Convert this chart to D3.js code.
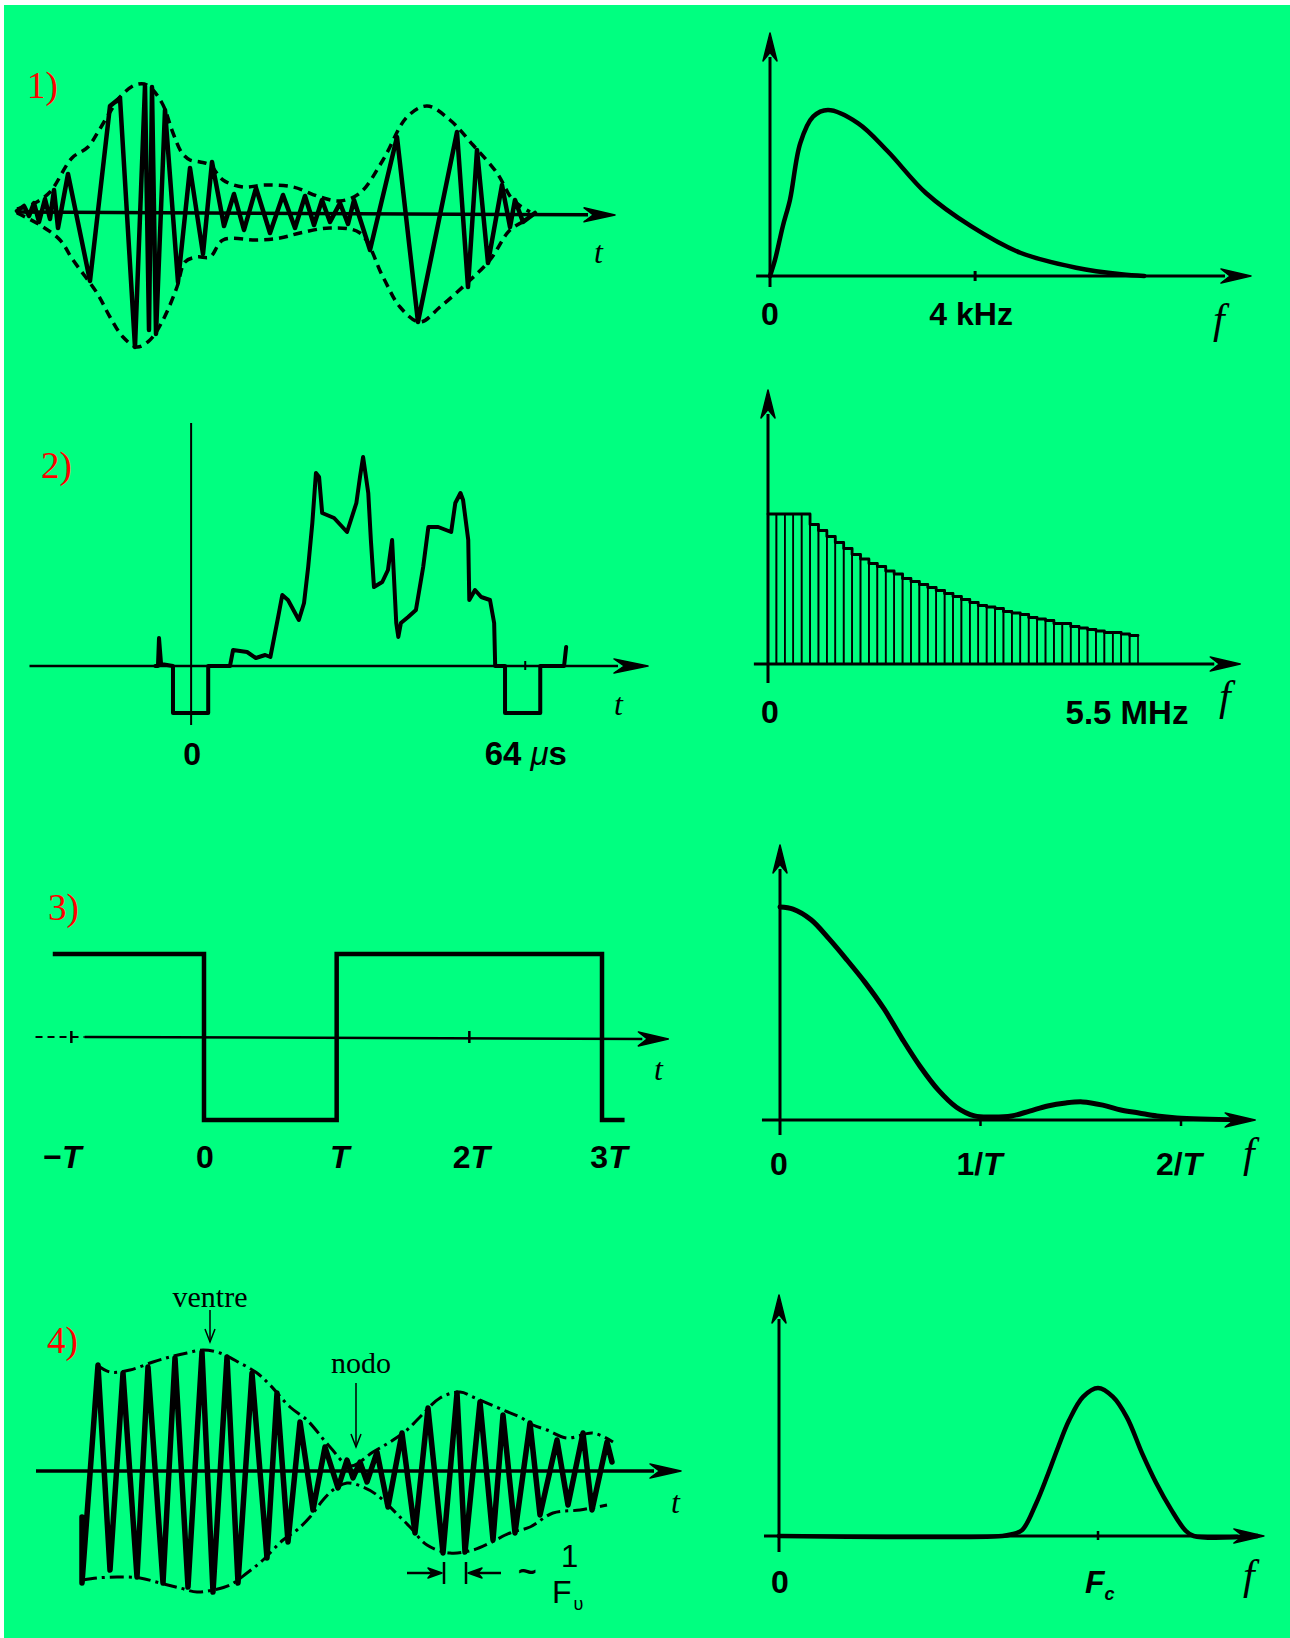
<!DOCTYPE html>
<html>
<head>
<meta charset="utf-8">
<script src="https://cdn.jsdelivr.net/npm/d3@7"></script>
<style>
	html, body { margin: 0; padding: 0; background: #ffffff; }
	svg { display: block; }
</style>
</head>
<body>
<script>

/****************************************
 *
 * Data
 *
 ****************************************/

// 1) speech burst : time (ms), amplitude
var burstWave = [
	[0, 0.01], [0.7, 0.06], [1.2, -0.04], [1.7, 0.09], [2.2, -0.10], [2.8, 0.13], [3.3, -0.07],
	[3.7, 0.22], [4.1, -0.16], [5.1, 0.38], [7.3, -0.69], [9.3, 1.06], [10.3, 1.14], [11.8, -1.35],
	[12.8, 1.26], [13.2, -1.18], [13.5, 1.25], [13.9, -1.22], [14.8, 1.02], [16.1, -0.70], [17.3, 0.44],
	[18.6, -0.42], [19.5, 0.50], [20.7, -0.14], [21.7, 0.18], [22.7, -0.18], [23.9, 0.24], [25.3, -0.21],
	[26.6, 0.17], [27.8, -0.16], [28.8, 0.16], [29.7, -0.13], [30.5, 0.12], [31.3, -0.10], [32.3, 0.09],
	[33.1, -0.12], [33.7, 0.12], [35.3, -0.38], [38.0, 0.75], [40.1, -1.10], [44.0, 0.80], [45.1, -0.75],
	[46.0, 0.62], [47.1, -0.51], [48.5, 0.27], [49.3, -0.15], [49.8, 0.12], [50.6, -0.10], [51.8, -0.01]
]
var burstUpper = [
	[0, 0.03], [1.8, 0.09], [3.3, 0.20], [5.5, 0.54], [7.1, 0.65], [8.1, 0.80], [9.3, 1.0], [10.3, 1.15],
	[11.8, 1.27], [13.0, 1.27], [14.5, 1.09], [15.6, 0.79], [16.5, 0.59], [17.3, 0.52], [18.3, 0.50],
	[19.3, 0.47], [20.6, 0.32], [22.6, 0.25], [24.8, 0.27], [27.6, 0.25], [30.3, 0.15], [32.3, 0.11],
	[34.3, 0.19], [36.6, 0.52], [39.0, 0.95], [41.0, 1.06], [43.3, 0.92], [45.6, 0.67], [48.0, 0.39],
	[49.6, 0.12], [51.3, 0.0]
]
var burstLower = [
	[0, -0.01], [2.3, -0.13], [4.3, -0.28], [5.6, -0.48], [8.0, -0.81], [9.3, -1.05], [10.6, -1.25],
	[12.0, -1.35], [13.3, -1.28], [14.6, -1.08], [16.0, -0.75], [16.8, -0.50], [18.0, -0.45], [19.3, -0.45],
	[20.6, -0.28], [24.0, -0.28], [26.3, -0.26], [28.3, -0.21], [31.3, -0.16], [34.3, -0.21], [36.6, -0.65],
	[38.3, -0.95], [40.3, -1.10], [42.3, -0.95], [45.0, -0.71], [47.3, -0.48], [49.3, -0.18], [51.0, -0.08]
]
// spectrum : f (kHz), relative level
var burstSpectrum = [
	[0, 0], [0.1, 0.1], [0.25, 0.3], [0.39, 0.46], [0.59, 0.80], [0.84, 0.96], [1.13, 1.0], [1.72, 0.92],
	[2.30, 0.75], [3.04, 0.50], [3.92, 0.30], [4.88, 0.14], [5.97, 0.05], [6.85, 0.01], [7.3, 0]
]

// 2) video line : time (µs), level
var videoLine = [
	[-6.9, 0], [-6.4, 0], [-6.2, 0.28], [-5.8, 0.02], [-3.5, 0], [-3.5, -0.47], [3.3, -0.47], [3.3, 0],
	[7.5, 0], [8.1, 0.16], [10.8, 0.14], [12.5, 0.08], [14.3, 0.11], [15.3, 0.09], [16.8, 0.49],
	[17.6, 0.71], [18.7, 0.66], [20.8, 0.46], [21.8, 0.63], [22.6, 0.99], [23.4, 1.43], [24.1, 1.93],
	[24.7, 1.89], [25.3, 1.53], [27.6, 1.48], [30.1, 1.34], [31.9, 1.63], [32.6, 1.89], [33.2, 2.09],
	[34.2, 1.73], [34.7, 1.26], [35.3, 0.79], [36.9, 0.84], [38.0, 0.96], [38.8, 1.26], [39.6, 0.43],
	[40.0, 0.29], [40.5, 0.43], [41.9, 0.49], [43.4, 0.56], [44.8, 0.99], [45.8, 1.39], [47.7, 1.39],
	[50.2, 1.34], [51.0, 1.63], [52.0, 1.73], [52.5, 1.66], [53.5, 1.26], [53.7, 0.66], [54.8, 0.76],
	[56.0, 0.69], [57.7, 0.66], [58.5, 0.43], [58.7, 0], [60.6, 0], [60.6, -0.47], [67.4, -0.47],
	[67.4, 0], [72.0, 0], [72.4, 0.19]
]
// line spectrum : relative amplitude of each 0.125 MHz band, 0 .. 5.5 MHz
var videoBars = [
	1, 1, 1, 1, 1, 0.93, 0.89, 0.85, 0.81, 0.77, 0.73, 0.70, 0.67, 0.65, 0.62, 0.60, 0.57, 0.55, 0.53,
	0.51, 0.49, 0.47, 0.45, 0.43, 0.41, 0.39, 0.38, 0.37, 0.35, 0.34, 0.33, 0.31, 0.30, 0.29, 0.27, 0.27,
	0.25, 0.24, 0.23, 0.22, 0.21, 0.21, 0.20, 0.19
]
var videoBarStep = 0.125

// 3) square wave : time (T), level
var squareWave = [[-1.14, 1], [0, 1], [0, -1], [1, -1], [1, 1], [3, 1], [3, -1], [3.17, -1]]
var squareTicks = [-1, 0, 1, 2, 3]
var squareTickLabels = [['−', 'T'], ['0', ''], ['', 'T'], ['2', 'T'], ['3', 'T']]
// spectrum : f (1/T), relative level
var sincSpectrum = [
	[0, 1.0], [0.065, 0.99], [0.155, 0.94], [0.245, 0.85], [0.335, 0.75], [0.425, 0.645], [0.52, 0.52],
	[0.61, 0.38], [0.70, 0.25], [0.79, 0.14], [0.88, 0.06], [0.97, 0.019], [1.065, 0.014], [1.155, 0.019],
	[1.245, 0.042], [1.335, 0.066], [1.425, 0.08], [1.51, 0.085], [1.61, 0.07], [1.70, 0.047],
	[1.79, 0.033], [1.88, 0.019], [1.98, 0.01], [2.3, 0.0]
]
var sincTicks = [0, 1, 2]
var sincTickLabels = [['0', ''], ['1/', 'T'], ['2/', 'T']]

// 4) beats : time (ms), amplitude
var beatWave = [
	[4.6, -0.46], [4.6, -1.12], [6.2, 1.06], [7.4, -0.99], [8.7, 0.98], [10.1, -1.06], [11.2, 1.04],
	[12.7, -1.12], [13.9, 1.13], [15.2, -1.16], [16.6, 1.19], [17.7, -1.21], [19.1, 1.14], [20.2, -1.12],
	[21.6, 0.98], [23.1, -0.87], [24.1, 0.78], [25.2, -0.71], [26.4, 0.49], [27.7, -0.39], [28.9, 0.24],
	[30.2, -0.17], [31.1, 0.11], [31.7, -0.07], [32.4, 0.09], [33.1, -0.11], [34.1, 0.19], [35.2, -0.36],
	[36.6, 0.38], [37.9, -0.62], [39.2, 0.63], [40.7, -0.82], [42.1, 0.78], [42.9, -0.81], [44.4, 0.69],
	[45.7, -0.69], [46.7, 0.56], [47.9, -0.62], [49.4, 0.48], [50.4, -0.44], [52.1, 0.31], [53.2, -0.34],
	[54.7, 0.38], [55.6, -0.39], [57.1, 0.29], [57.6, 0.09]
]
var beatUpper = [
	[6.1, 1.06], [7.4, 0.99], [9.4, 1.01], [11.7, 1.09], [13.4, 1.14], [15.1, 1.18], [16.7, 1.21],
	[18.4, 1.18], [20.4, 1.08], [22.1, 0.98], [23.4, 0.86], [25.4, 0.64], [27.1, 0.51], [29.4, 0.24],
	[31.4, 0.05], [33.7, 0.19], [35.4, 0.29], [37.1, 0.41], [38.4, 0.54], [40.4, 0.73], [42.4, 0.79],
	[43.7, 0.74], [46.7, 0.61], [48.4, 0.54], [49.7, 0.46], [51.1, 0.41], [53.1, 0.33], [55.7, 0.38],
	[57.7, 0.29]
]
var beatLower = [
	[4.7, -1.09], [6.1, -1.07], [8.1, -1.06], [10.4, -1.07], [12.4, -1.12], [14.4, -1.17], [16.1, -1.21],
	[17.7, -1.19], [19.4, -1.14], [21.1, -1.02], [22.7, -0.89], [24.7, -0.69], [26.1, -0.59], [27.4, -0.46],
	[28.7, -0.29], [29.7, -0.19], [31.1, -0.12], [32.7, -0.16], [34.1, -0.24], [36.4, -0.46], [37.4, -0.56],
	[39.1, -0.74], [41.4, -0.82], [43.7, -0.79], [45.4, -0.72], [47.4, -0.62], [49.4, -0.56], [51.7, -0.42],
	[54.4, -0.39], [57.1, -0.34]
]
var beatMarks = [{ label: 'ventre', t: 17.4 }, { label: 'nodo', t: 32.0 }]
var beatPeriodIdx = [31, 33]   // the two troughs framing one carrier period
// spectrum : f (Fc), relative level
var beatSpectrum = [
	[0, 0], [0.70, 0], [0.727, 0.01], [0.762, 0.04], [0.806, 0.22], [0.84, 0.40], [0.875, 0.60],
	[0.909, 0.78], [0.953, 0.94], [1.0, 1.0], [1.047, 0.94], [1.091, 0.80], [1.138, 0.56], [1.182, 0.36],
	[1.229, 0.18], [1.273, 0.04], [1.30, 0], [1.5, 0]
]


/****************************************
 *
 * Helpers
 *
 ****************************************/

var W = 1290, H = 1638
	, serif = '"Liberation Serif", "Times New Roman", serif'
	, sans = '"Liberation Sans", Arial, sans-serif'

var svg = d3.select('body').append('svg')
	.attr('width', W)
	.attr('height', H)
	.attr('viewBox', '0 0 ' + W + ' ' + H)

svg.append('rect').attr('width', W).attr('height', H).attr('fill', '#ffffff')
svg.append('rect').attr('x', 4).attr('y', 5).attr('width', W - 4).attr('height', H - 5).attr('fill', '#00ff80')

/**
 * Straight line ending in a filled arrow head at (x2, y2)
 */
function arrowLine(g, x1, y1, x2, y2, width, len, half) {

	var ang = Math.atan2(y2 - y1, x2 - x1)
		, bx = x2 - len * Math.cos(ang)
		, by = y2 - len * Math.sin(ang)
		, px = -Math.sin(ang) * half
		, py = Math.cos(ang) * half

	g.append('line')
		.attr('x1', x1).attr('y1', y1)
		.attr('x2', bx + 4 * Math.cos(ang)).attr('y2', by + 4 * Math.sin(ang))
		.attr('stroke', '#000').attr('stroke-width', width)

	g.append('path')
		.attr('d', 'M' + x2 + ',' + y2 + 'L' + (bx + px) + ',' + (by + py)
			+ 'L' + (bx + 0.3 * len * Math.cos(ang)) + ',' + (by + 0.3 * len * Math.sin(ang))
			+ 'L' + (bx - px) + ',' + (by - py) + 'Z')
		.attr('fill', '#000')
		.attr('stroke', '#000')
		.attr('stroke-width', 1.5)
		.attr('stroke-linejoin', 'round')
}

/**
 * Trace a series through its panel scales
 */
function trace(g, data, x, y, width, curve) {

	return g.append('path')
		.datum(data)
		.attr('fill', 'none')
		.attr('stroke', '#000')
		.attr('stroke-width', width)
		.attr('stroke-linejoin', 'round')
		.attr('stroke-linecap', 'round')
		.attr('d', d3.line()
			.x(function(d) { return x(d[0]) })
			.y(function(d) { return y(d[1]) })
			.curve(curve || d3.curveLinear))
}

function panelLabel(text, x, y) {
	svg.append('text')
		.attr('x', x).attr('y', y)
		.attr('font-family', serif)
		.attr('font-size', 37)
		.attr('fill', '#ff0000')
		.text(text)
}

function varLabel(text, x, y, size) {
	svg.append('text')
		.attr('x', x).attr('y', y)
		.attr('font-family', serif)
		.attr('font-style', 'italic')
		.attr('font-size', size)
		.text(text)
}

/**
 * Tick label made of an upright part and an italic part
 */
function tickLabel(parts, x, y, anchor) {
	var t = svg.append('text')
		.attr('x', x).attr('y', y)
		.attr('text-anchor', anchor || 'middle')
		.attr('font-family', sans)
		.attr('font-weight', 'bold')
		.attr('font-size', 32)
	t.append('tspan').text(parts[0])
	if (parts[1]) t.append('tspan').attr('font-style', 'italic').text(parts[1])
	return t
}

/**
 * Frequency axes (shared look of the four right-hand panels)
 */
function spectrumAxes(x, y, xFrom, xTo, yFrom, yTo) {

	var g = svg.append('g')
	arrowLine(g, x(xFrom), y(0), x(xTo), y(0), 3, 30, 7)
	arrowLine(g, x(0), yFrom, x(0), yTo, 3, 28, 7)
	return g
}


/****************************************
 *
 * 1) speech burst and its spectrum
 *
 ****************************************/

function drawBurst() {

	var x = d3.scaleLinear().domain([0, 60]).range([17, 617])
		, y = d3.scaleLinear().domain([-1, 1]).range([312, 112])
		, g = svg.append('g')

	arrowLine(g, x(-0.1), y(0), x(59.8), y(0) + 3, 3.5, 31, 7)

	;[burstUpper, burstLower].forEach(function(env) {
		trace(g, env, x, y, 3.5, d3.curveCatmullRom)
			.attr('stroke-dasharray', '9 6')
			.attr('stroke-linecap', 'butt')
	})

	trace(g, burstWave, x, y, 4.5)

	varLabel('t', 594, 263, 32)
	panelLabel('1)', 27, 98)
}

function drawBurstSpectrum() {

	var x = d3.scaleLinear().domain([0, 9.4]).range([770, 1252])
		, y = d3.scaleLinear().domain([0, 1]).range([276, 110])
		, g = spectrumAxes(x, y, -0.27, 9.38, y(0) + 11, 33)

	g.append('line')
		.attr('x1', x(4)).attr('x2', x(4))
		.attr('y1', y(0) - 5).attr('y2', y(0) + 5)
		.attr('stroke', '#000').attr('stroke-width', 3)

	trace(g, burstSpectrum, x, y, 4.5, d3.curveCatmullRom)

	tickLabel(['0', ''], x(0), 325)
	tickLabel(['4 kHz', ''], x(4) - 4, 325)
	varLabel('f', 1213, 333, 42)
}


/****************************************
 *
 * 2) TV video line and its line spectrum
 *
 ****************************************/

function drawVideo() {

	var x = d3.scaleLinear().domain([-31.2, 88.2]).range([29.5, 648])
		, y = d3.scaleLinear().domain([0, 1]).range([666, 566])
		, g = svg.append('g')

	arrowLine(g, x(-31.2), y(0), x(88.2), y(0), 2.5, 34, 7)

	g.append('line')
		.attr('x1', x(0)).attr('x2', x(0))
		.attr('y1', 423).attr('y2', 725)
		.attr('stroke', '#000').attr('stroke-width', 2)

	g.append('line')
		.attr('x1', x(64.5)).attr('x2', x(64.5))
		.attr('y1', y(0) - 5).attr('y2', y(0) + 4)
		.attr('stroke', '#000').attr('stroke-width', 2)

	trace(g, videoLine, x, y, 4)

	tickLabel(['0', ''], x(0) + 1, 765)
	var lab = tickLabel(['64 ', ''], x(64) - 38, 765, 'start')
		.attr('font-size', 33)
	lab.append('tspan').attr('font-style', 'italic').attr('font-weight', 'normal').text('μ')
	lab.append('tspan').text('s')
	varLabel('t', 614, 715, 32)
	panelLabel('2)', 41, 478)
}

function drawVideoSpectrum() {

	var x = d3.scaleLinear().domain([0, 5.5]).range([768, 1138])
		, y = d3.scaleLinear().domain([0, 1]).range([664, 514])
		, g = spectrumAxes(x, y, -0.21, 7.02, 683, 390)

	g.selectAll('.bar').data(videoBars)
	  .enter()
	    .append('rect')
	    .attr('class', 'bar')
	    .attr('x', function(d, i) { return x(i * videoBarStep) })
	    .attr('width', x(videoBarStep) - x(0))
	    .attr('y', function(d) { return y(d) })
	    .attr('height', function(d) { return y(0) - y(d) })
	    .attr('fill', 'none')
	    .attr('stroke', '#000')
	    .attr('stroke-width', 1.6)

	var top = videoBars.map(function(v, i) { return [i * videoBarStep, v] })
	top.push([videoBars.length * videoBarStep, videoBars[videoBars.length - 1]])
	trace(g, top, x, y, 2.8, d3.curveStepAfter)

	tickLabel(['0', ''], x(0) + 2, 723)
	tickLabel(['5.5 MHz', ''], x(5.5) - 11, 724).attr('font-size', 33)
	varLabel('f', 1219, 710, 42)
}


/****************************************
 *
 * 3) square wave and its sinc spectrum
 *
 ****************************************/

function drawSquare() {

	var x = d3.scaleLinear().domain([0, 3]).range([204, 602])
		, y = d3.scaleLinear().domain([-1, 1]).range([1120, 954])
		, g = svg.append('g')

	g.append('line')
		.attr('x1', x(-1.27)).attr('x2', x(-0.9))
		.attr('y1', y(0)).attr('y2', y(0))
		.attr('stroke', '#000').attr('stroke-width', 2)
		.attr('stroke-dasharray', '7 5')

	arrowLine(g, x(-0.9), y(0), x(3.5), y(0) + 2, 2.5, 30, 7)

	;[-1, 2].forEach(function(v) {
		g.append('line')
			.attr('x1', x(v)).attr('x2', x(v))
			.attr('y1', y(0) - 6).attr('y2', y(0) + 6)
			.attr('stroke', '#000').attr('stroke-width', 2.5)
	})

	trace(g, squareWave, x, y, 4.5)
		.attr('stroke-linejoin', 'miter')
		.attr('stroke-linecap', 'butt')

	var dx = [-9, 1, 3, 2, 7]
	squareTicks.forEach(function(v, i) {
		tickLabel(squareTickLabels[i], x(v) + dx[i], 1168)
	})
	varLabel('t', 654, 1080, 32)
	panelLabel('3)', 48, 920)
}

function drawSincSpectrum() {

	var x = d3.scaleLinear().domain([0, 2]).range([780, 1181])
		, y = d3.scaleLinear().domain([0, 1]).range([1120, 907])
		, g = spectrumAxes(x, y, -0.09, 2.37, 1135, 845)

	sincTicks.slice(1).forEach(function(v) {
		g.append('line')
			.attr('x1', x(v)).attr('x2', x(v))
			.attr('y1', y(0) - 3).attr('y2', y(0) + 6)
			.attr('stroke', '#000').attr('stroke-width', 2.5)
	})

	trace(g, sincSpectrum, x, y, 5, d3.curveCatmullRom)

	var dx = [-1, -1, -2]
	sincTicks.forEach(function(v, i) {
		tickLabel(sincTickLabels[i], x(v) + dx[i], 1175)
	})
	varLabel('f', 1243, 1167, 42)
}


/****************************************
 *
 * 4) beats and the carrier spectrum
 *
 ****************************************/

function drawBeats() {

	var x = d3.scaleLinear().domain([0, 64.5]).range([36, 681])
		, y = d3.scaleLinear().domain([-1, 1]).range([1571, 1371])
		, g = svg.append('g')

	arrowLine(g, x(0), y(0), x(64.5), y(0), 3.5, 31, 7)

	;[beatUpper, beatLower].forEach(function(env) {
		trace(g, env, x, y, 3, d3.curveCatmullRom)
			.attr('stroke-dasharray', '14 5 3 5')
			.attr('stroke-linecap', 'butt')
	})

	trace(g, beatWave, x, y, 5.5)

	// ventre / nodo pointers
	var tops = [{ text: 1307, a: 1310, b: 1342, dx: 0 }, { text: 1373, a: 1383, b: 1447, dx: 5 }]
	beatMarks.forEach(function(m, i) {
		var px = x(m.t), p = tops[i]
		svg.append('text')
			.attr('x', px + p.dx).attr('y', p.text)
			.attr('text-anchor', 'middle')
			.attr('font-family', serif)
			.attr('font-size', 30)
			.text(m.label)
		g.append('line')
			.attr('x1', px).attr('x2', px).attr('y1', p.a).attr('y2', p.b)
			.attr('stroke', '#000').attr('stroke-width', 1.5)
		g.append('path')
			.attr('d', 'M' + (px - 5) + ',' + (p.b - 13) + 'L' + px + ',' + p.b + 'L' + (px + 5) + ',' + (p.b - 13))
			.attr('fill', 'none').attr('stroke', '#000').attr('stroke-width', 1.5)
	})

	// one carrier period  →| |←  ~ 1/Fυ
	var p0 = x(beatWave[beatPeriodIdx[0]][0]) + 1
		, p1 = x(beatWave[beatPeriodIdx[1]][0]) + 1
		, py = 1573

	;[p0, p1].forEach(function(px) {
		g.append('line')
			.attr('x1', px).attr('x2', px).attr('y1', py - 11).attr('y2', py + 11)
			.attr('stroke', '#000').attr('stroke-width', 2.5)
	})
	arrowLine(g, p0 - 37, py, p0 - 2, py, 2.5, 14, 5)
	arrowLine(g, p1 + 35, py, p1 + 2, py, 2.5, 14, 5)

	svg.append('text').attr('x', p1 + 52).attr('y', 1582)
		.attr('font-family', sans).attr('font-size', 32).attr('font-weight', 'bold').text('~')
	svg.append('text').attr('x', p1 + 95).attr('y', 1567)
		.attr('font-family', sans).attr('font-size', 31).text('1')
	var frac = svg.append('text').attr('x', p1 + 86).attr('y', 1603)
		.attr('font-family', sans).attr('font-size', 32).text('F')
	frac.append('tspan').attr('font-size', 18).attr('dy', 7).attr('dx', 2).text('υ')

	varLabel('t', 671, 1513, 32)
	panelLabel('4)', 47, 1353)
}

function drawBeatSpectrum() {

	var x = d3.scaleLinear().domain([0, 1.5]).range([779, 1257.5])
		, y = d3.scaleLinear().domain([0, 1]).range([1536, 1388])
		, g = spectrumAxes(x, y, -0.047, 1.52, 1552, 1295)

	g.append('line')
		.attr('x1', x(1)).attr('x2', x(1))
		.attr('y1', y(0) - 5).attr('y2', y(0) + 4)
		.attr('stroke', '#000').attr('stroke-width', 2.5)

	trace(g, beatSpectrum, x, y, 4.5, d3.curveCatmullRom)

	tickLabel(['0', ''], x(0) + 1, 1593)
	var fc = tickLabel(['', 'F'], x(1) - 13, 1593, 'start')
	fc.append('tspan').attr('font-style', 'italic').attr('font-size', 18).attr('dy', 7).text('c')
	varLabel('f', 1243, 1589, 42)
}


drawBurst()
drawBurstSpectrum()
drawVideo()
drawVideoSpectrum()
drawSquare()
drawSincSpectrum()
drawBeats()
drawBeatSpectrum()

</script>
</body>
</html>
